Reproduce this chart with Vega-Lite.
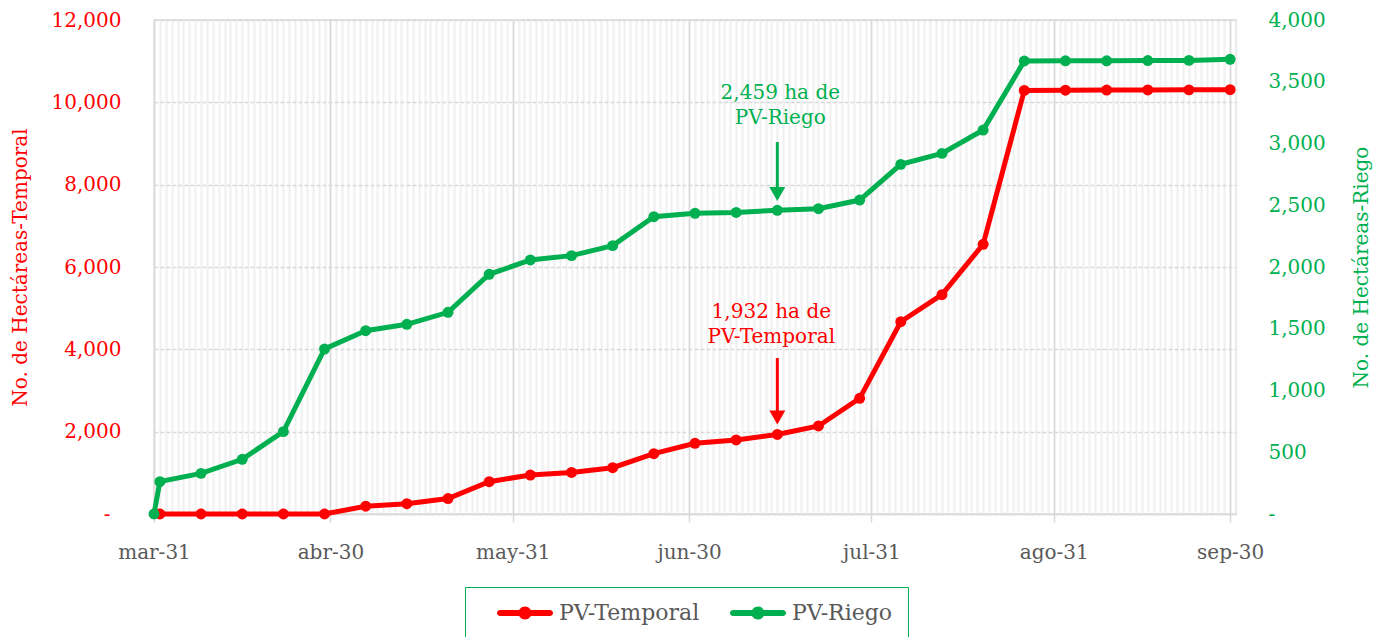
{
  "$schema": "https://vega.github.io/schema/vega-lite/v6.json",
  "width": 1082,
  "height": 494,
  "autosize": {"type": "none"},
  "padding": {"left": 154, "top": 20, "right": 145, "bottom": 123},
  "background": "white",
  "config": {
    "font": "DejaVu Serif",
    "view": {"stroke": "#d9d9d9", "strokeWidth": 1.5},
    "axis": {"labelFontSize": 20, "titleFontSize": 20, "titleFontWeight": "normal", "labelFont": "DejaVu Serif", "titleFont": "DejaVu Serif"},
    "legend": {"labelFontSize": 22, "labelFont": "DejaVu Serif"}
  },
  "datasets": {
    "temporal": [
      {"date": "2021-04-01", "series": "PV-Temporal", "value": 0},
      {"date": "2021-04-08", "series": "PV-Temporal", "value": 0},
      {"date": "2021-04-15", "series": "PV-Temporal", "value": 0},
      {"date": "2021-04-22", "series": "PV-Temporal", "value": 0},
      {"date": "2021-04-29", "series": "PV-Temporal", "value": 0},
      {"date": "2021-05-06", "series": "PV-Temporal", "value": 190},
      {"date": "2021-05-13", "series": "PV-Temporal", "value": 250},
      {"date": "2021-05-20", "series": "PV-Temporal", "value": 375},
      {"date": "2021-05-27", "series": "PV-Temporal", "value": 785},
      {"date": "2021-06-03", "series": "PV-Temporal", "value": 947},
      {"date": "2021-06-10", "series": "PV-Temporal", "value": 1010},
      {"date": "2021-06-17", "series": "PV-Temporal", "value": 1125},
      {"date": "2021-06-24", "series": "PV-Temporal", "value": 1465},
      {"date": "2021-07-01", "series": "PV-Temporal", "value": 1717},
      {"date": "2021-07-08", "series": "PV-Temporal", "value": 1800},
      {"date": "2021-07-15", "series": "PV-Temporal", "value": 1932},
      {"date": "2021-07-22", "series": "PV-Temporal", "value": 2138},
      {"date": "2021-07-29", "series": "PV-Temporal", "value": 2810},
      {"date": "2021-08-05", "series": "PV-Temporal", "value": 4671},
      {"date": "2021-08-12", "series": "PV-Temporal", "value": 5327},
      {"date": "2021-08-19", "series": "PV-Temporal", "value": 6551},
      {"date": "2021-08-26", "series": "PV-Temporal", "value": 10290},
      {"date": "2021-09-02", "series": "PV-Temporal", "value": 10295},
      {"date": "2021-09-09", "series": "PV-Temporal", "value": 10298},
      {"date": "2021-09-16", "series": "PV-Temporal", "value": 10300},
      {"date": "2021-09-23", "series": "PV-Temporal", "value": 10303},
      {"date": "2021-09-30", "series": "PV-Temporal", "value": 10307}
    ],
    "riego": [
      {"date": "2021-03-31", "series": "PV-Riego", "value": 0},
      {"date": "2021-04-01", "series": "PV-Riego", "value": 262},
      {"date": "2021-04-08", "series": "PV-Riego", "value": 329},
      {"date": "2021-04-15", "series": "PV-Riego", "value": 443},
      {"date": "2021-04-22", "series": "PV-Riego", "value": 667},
      {"date": "2021-04-29", "series": "PV-Riego", "value": 1336},
      {"date": "2021-05-06", "series": "PV-Riego", "value": 1484},
      {"date": "2021-05-13", "series": "PV-Riego", "value": 1536},
      {"date": "2021-05-20", "series": "PV-Riego", "value": 1633},
      {"date": "2021-05-27", "series": "PV-Riego", "value": 1941},
      {"date": "2021-06-03", "series": "PV-Riego", "value": 2057},
      {"date": "2021-06-10", "series": "PV-Riego", "value": 2092},
      {"date": "2021-06-17", "series": "PV-Riego", "value": 2173},
      {"date": "2021-06-24", "series": "PV-Riego", "value": 2407},
      {"date": "2021-07-01", "series": "PV-Riego", "value": 2435},
      {"date": "2021-07-08", "series": "PV-Riego", "value": 2442},
      {"date": "2021-07-15", "series": "PV-Riego", "value": 2459},
      {"date": "2021-07-22", "series": "PV-Riego", "value": 2472},
      {"date": "2021-07-29", "series": "PV-Riego", "value": 2542},
      {"date": "2021-08-05", "series": "PV-Riego", "value": 2831},
      {"date": "2021-08-12", "series": "PV-Riego", "value": 2920},
      {"date": "2021-08-19", "series": "PV-Riego", "value": 3109},
      {"date": "2021-08-26", "series": "PV-Riego", "value": 3668},
      {"date": "2021-09-02", "series": "PV-Riego", "value": 3670},
      {"date": "2021-09-09", "series": "PV-Riego", "value": 3670},
      {"date": "2021-09-16", "series": "PV-Riego", "value": 3672},
      {"date": "2021-09-23", "series": "PV-Riego", "value": 3673},
      {"date": "2021-09-30", "series": "PV-Riego", "value": 3682}
    ],
    "notes": [
      {"date": "2021-07-15", "series": "PV-Riego", "label": "2,459 ha de\nPV-Riego", "textY": 3360, "arrowTop": 3012, "arrowBase": 2640, "headY": 2591},
      {"date": "2021-07-15", "series": "PV-Temporal", "label": "1,932 ha de\nPV-Temporal", "textY": 4761, "arrowTop": 3789, "arrowBase": 2502, "headY": 2344}
    ]
  },
  "layer": [
    {
      "data": {"name": "temporal"},
      "mark": {"type": "rule", "opacity": 0},
      "encoding": {
        "x": {
          "field": "date", "type": "temporal",
          "scale": {"type": "utc", "domain": [{"year": 2021, "month": 3, "date": 31, "utc": true}, {"year": 2021, "month": 10, "date": 1, "utc": true}]},
          "axis": {"orient": "top", "tickCount": {"interval": "day", "step": 1}, "grid": true, "gridColor": "#f0f0f0", "gridWidth": 2, "labels": false, "ticks": false, "domain": false, "title": null}
        }
      }
    },
    {
      "layer": [
        {
          "data": {"name": "temporal"},
          "mark": {"type": "line", "color": "#ff0000", "strokeWidth": 5},
          "encoding": {
            "x": {"field": "date", "type": "temporal", "axis": null},
            "y": {
              "field": "value", "type": "quantitative",
              "scale": {"domain": [0, 12000], "nice": false},
              "axis": {
                "orient": "left", "values": [0, 2000, 4000, 6000, 8000, 10000, 12000],
                "labelExpr": "datum.value == 0 ? '-' : format(datum.value, ',')",
                "labelColor": "#ff0000",
                "labelPadding": {"condition": {"test": "datum.value == 0", "value": 44}, "value": 33},
                "ticks": false, "domain": false,
                "grid": true, "gridColor": "#d9d9d9", "gridDash": [4, 2], "gridWidth": 1.5,
                "title": "No. de Hectáreas-Temporal", "titleColor": "#ff0000",
                "titleX": -134, "titleY": 247, "titleAngle": -90, "titleBaseline": "middle", "titleAlign": "center"
              }
            }
          }
        },
        {
          "data": {"name": "temporal"},
          "mark": {"type": "point", "filled": true, "size": 120, "opacity": 1},
          "encoding": {
            "x": {"field": "date", "type": "temporal", "axis": null},
            "y": {"field": "value", "type": "quantitative"},
            "color": {
              "field": "series", "type": "nominal",
              "scale": {"domain": ["PV-Temporal", "PV-Riego"], "range": ["#ff0000", "#00b050"]},
              "legend": {
                "orient": "none", "legendX": 311, "legendY": 567, "direction": "horizontal", "title": null,
                "strokeColor": "#00b050", "padding": 15, "fillColor": "white",
                "symbolType": "M-2.5,-0.3 H2.5 A0.3,0.3 0 0,1 2.5,0.3 H-2.5 A0.3,0.3 0 0,1 -2.5,-0.3 Z M0.65,0 A0.65,0.65 0 1,1 -0.65,0 A0.65,0.65 0 1,1 0.65,0 Z",
                "symbolSize": 400, "symbolStrokeWidth": 0, "symbolOffset": 34, "labelOffset": 23, "columnPadding": 13,
                "labelColor": "#595959", "labelFontSize": 22
              }
            }
          }
        },
        {
          "data": {"name": "notes"},
          "transform": [{"filter": "datum.series == 'PV-Temporal'"}],
          "mark": {"type": "text", "color": "#ff0000", "fontSize": 20, "lineBreak": "\n", "lineHeight": 25, "baseline": "alphabetic", "align": "center", "dx": -6},
          "encoding": {
            "x": {"field": "date", "type": "temporal", "axis": null},
            "y": {"field": "textY", "type": "quantitative"},
            "text": {"field": "label"}
          }
        },
        {
          "data": {"name": "notes"},
          "transform": [{"filter": "datum.series == 'PV-Temporal'"}],
          "mark": {"type": "rule", "color": "#ff0000", "strokeWidth": 3},
          "encoding": {
            "x": {"field": "date", "type": "temporal", "axis": null},
            "y": {"field": "arrowTop", "type": "quantitative"},
            "y2": {"field": "arrowBase"}
          }
        },
        {
          "data": {"name": "notes"},
          "transform": [{"filter": "datum.series == 'PV-Temporal'"}],
          "mark": {"type": "point", "shape": "triangle-down", "filled": true, "size": 256, "color": "#ff0000", "opacity": 1},
          "encoding": {
            "x": {"field": "date", "type": "temporal", "axis": null},
            "y": {"field": "headY", "type": "quantitative"}
          }
        }
      ]
    },
    {
      "layer": [
        {
          "data": {"name": "riego"},
          "mark": {"type": "line", "color": "#00b050", "strokeWidth": 5},
          "encoding": {
            "x": {
              "field": "date", "type": "temporal",
              "axis": {
                "orient": "bottom",
                "values": [
                  {"year": 2021, "month": 3, "date": 31, "utc": true},
                  {"year": 2021, "month": 4, "date": 30, "utc": true},
                  {"year": 2021, "month": 5, "date": 31, "utc": true},
                  {"year": 2021, "month": 6, "date": 30, "utc": true},
                  {"year": 2021, "month": 7, "date": 31, "utc": true},
                  {"year": 2021, "month": 8, "date": 31, "utc": true},
                  {"year": 2021, "month": 9, "date": 30, "utc": true}
                ],
                "labelExpr": "['ene','feb','mar','abr','may','jun','jul','ago','sep','oct','nov','dic'][utcmonth(datum.value)] + '-' + utcdate(datum.value)",
                "labelColor": "#595959", "labelPadding": 20, "labelFlush": false, "labelOverlap": false,
                "ticks": true, "tickSize": 8, "tickColor": "#d9d9d9", "tickWidth": 1.5,
                "domain": true, "domainColor": "#d9d9d9", "domainWidth": 1.5,
                "grid": true, "gridColor": "#d9d9d9", "gridWidth": 1.5, "title": null
              }
            },
            "y": {
              "field": "value", "type": "quantitative",
              "scale": {"domain": [0, 4000], "nice": false},
              "axis": {
                "orient": "right", "values": [0, 500, 1000, 1500, 2000, 2500, 3000, 3500, 4000],
                "labelExpr": "datum.value == 0 ? '-' : format(datum.value, ',')",
                "labelColor": "#00b050", "labelPadding": 32, "ticks": false, "domain": false, "grid": false,
                "title": "No. de Hectáreas-Riego", "titleColor": "#00b050",
                "titleX": 125, "titleY": 247, "titleAngle": -90, "titleBaseline": "middle", "titleAlign": "center"
              }
            }
          }
        },
        {
          "data": {"name": "riego"},
          "mark": {"type": "point", "filled": true, "size": 120, "opacity": 1},
          "encoding": {
            "x": {"field": "date", "type": "temporal"},
            "y": {"field": "value", "type": "quantitative"},
            "color": {"field": "series", "type": "nominal"}
          }
        },
        {
          "data": {"name": "notes"},
          "transform": [{"filter": "datum.series == 'PV-Riego'"}],
          "mark": {"type": "text", "color": "#00b050", "fontSize": 20, "lineBreak": "\n", "lineHeight": 25, "baseline": "alphabetic", "align": "center", "dx": 3},
          "encoding": {
            "x": {"field": "date", "type": "temporal"},
            "y": {"field": "textY", "type": "quantitative"},
            "text": {"field": "label"}
          }
        },
        {
          "data": {"name": "notes"},
          "transform": [{"filter": "datum.series == 'PV-Riego'"}],
          "mark": {"type": "rule", "color": "#00b050", "strokeWidth": 3},
          "encoding": {
            "x": {"field": "date", "type": "temporal"},
            "y": {"field": "arrowTop", "type": "quantitative"},
            "y2": {"field": "arrowBase"}
          }
        },
        {
          "data": {"name": "notes"},
          "transform": [{"filter": "datum.series == 'PV-Riego'"}],
          "mark": {"type": "point", "shape": "triangle-down", "filled": true, "size": 256, "color": "#00b050", "opacity": 1},
          "encoding": {
            "x": {"field": "date", "type": "temporal"},
            "y": {"field": "headY", "type": "quantitative"}
          }
        }
      ]
    }
  ],
  "resolve": {"scale": {"y": "independent"}, "axis": {"x": "independent"}}
}
